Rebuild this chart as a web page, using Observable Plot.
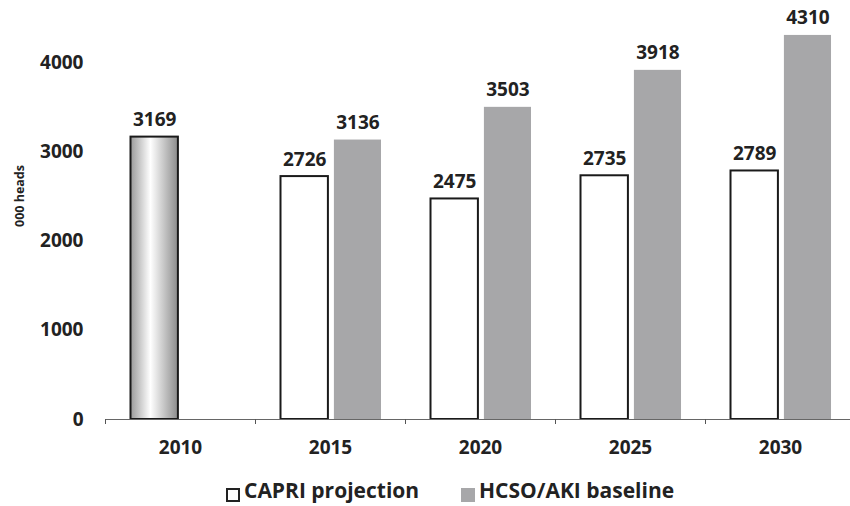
<!DOCTYPE html>
<html>
<head>
<meta charset="utf-8">
<script src="https://cdn.jsdelivr.net/npm/d3@7"></script>
<script src="https://cdn.jsdelivr.net/npm/@observablehq/plot@0.6"></script>
<style>
  html, body { margin: 0; padding: 0; background: #fff; }
  #wrap { width: 850px; height: 506px; position: relative; overflow: hidden; }
  #legend { position: relative; height: 36px; font-family: "Open Sans", sans-serif; font-weight: 700; font-size: 21px; color: #222; }
  .sw { position: absolute; width: 14px; height: 14px; box-sizing: border-box; }
  .lt { position: absolute; line-height: 28px; white-space: nowrap; }
</style>
</head>
<body>
<div id="wrap">
  <div id="chart"></div>
  <div id="legend"></div>
</div>
<script>
// ---- data ----
const baseYear = 2010;
const baseValue = 3169;
const projYears = [2015, 2020, 2025, 2030];
const capri = [2726, 2475, 2735, 2789];
const hcso = [3136, 3503, 3918, 4310];
const allYears = [baseYear, ...projYears];
const yTicks = [0, 1000, 2000, 3000, 4000];
const seriesNames = ["CAPRI projection", "HCSO/AKI baseline"];
const yLabel = "000 heads";

const baseRows = [{year: baseYear, value: baseValue}];
const capriRows = projYears.map((y, i) => ({year: y, value: capri[i]}));
const hcsoRows = projYears.map((y, i) => ({year: y, value: hcso[i]}));
const boundaries = allYears.map(y => y - 2.5);

const grayFill = "#a7a7a9";
const ink = "#222";

const chart = Plot.plot({
  width: 850,
  height: 470,
  marginLeft: 105,
  marginRight: 0,
  marginTop: 18,
  marginBottom: 51,
  x: {domain: [2007.5, 2032.333]},
  y: {domain: [0, 4500]},
  style: {fontFamily: "Open Sans, sans-serif", fontWeight: 700, color: ink, background: "#fff"},
  marks: [
    Plot.rect(baseRows, {x1: d => d.year - 1.65, x2: d => d.year - 0.07, y1: d => 0, y2: "value",
      fill: "url(#g2010)", stroke: "#1a1a1a", strokeWidth: 2}),
    Plot.rect(capriRows, {x1: d => d.year - 1.65, x2: d => d.year - 0.07, y1: d => 0, y2: "value",
      fill: "#fff", stroke: "#1a1a1a", strokeWidth: 2}),
    Plot.rect(hcsoRows, {x1: d => d.year + 0.13, x2: d => d.year + 1.7, y1: d => 0, y2: "value",
      fill: grayFill}),
    Plot.ruleY([0], {stroke: "#666", strokeWidth: 1}),
    Plot.axisX(boundaries, {tickSize: 5, tickFormat: () => "", stroke: "#555"}),
    Plot.axisX(allYears, {tickSize: 0, tickPadding: 21, fontSize: 19, fontWeight: 700, tickFormat: d => String(d), label: null}),
    Plot.axisY(yTicks, {tickSize: 0, tickPadding: 22, fontSize: 19, fontWeight: 700, label: null, tickFormat: d => String(d)}),
    Plot.text(baseRows, {x: d => d.year - 0.86, y: "value", text: d => String(d.value), lineAnchor: "bottom", dy: -11, fontSize: 19, fontWeight: 700, fill: ink}),
    Plot.text(capriRows, {x: d => d.year - 0.86, y: "value", text: d => String(d.value), lineAnchor: "bottom", dy: -11, fontSize: 19, fontWeight: 700, fill: ink}),
    Plot.text(hcsoRows, {x: d => d.year + 0.915, y: "value", text: d => String(d.value), lineAnchor: "bottom", dy: -11, fontSize: 19, fontWeight: 700, fill: ink}),
    Plot.text([yLabel], {frameAnchor: "left", dx: -86, dy: 8, rotate: -90, fontSize: 12.5, fontWeight: 700, fill: ink})
  ]
});

const defs = d3.select(chart).insert("defs", ":first-child");
const lg = defs.append("linearGradient").attr("id", "g2010").attr("x1", "0%").attr("x2", "100%").attr("y1", "0%").attr("y2", "0%");
lg.append("stop").attr("offset", "0%").attr("stop-color", "#9a9a9a");
lg.append("stop").attr("offset", "42%").attr("stop-color", "#ffffff");
lg.append("stop").attr("offset", "100%").attr("stop-color", "#8c8c8c");

document.getElementById("chart").appendChild(chart);

const legend = d3.select("#legend");
legend.append("div").attr("class", "sw").style("left", "226px").style("top", "18px").style("border", "2px solid #222").style("background", "#fff");
legend.append("div").attr("class", "lt").style("left", "244px").style("top", "6px").text(seriesNames[0]);
legend.append("div").attr("class", "sw").style("left", "461px").style("top", "18px").style("background", grayFill);
legend.append("div").attr("class", "lt").style("left", "479px").style("top", "6px").text(seriesNames[1]);
</script>
</body>
</html>
